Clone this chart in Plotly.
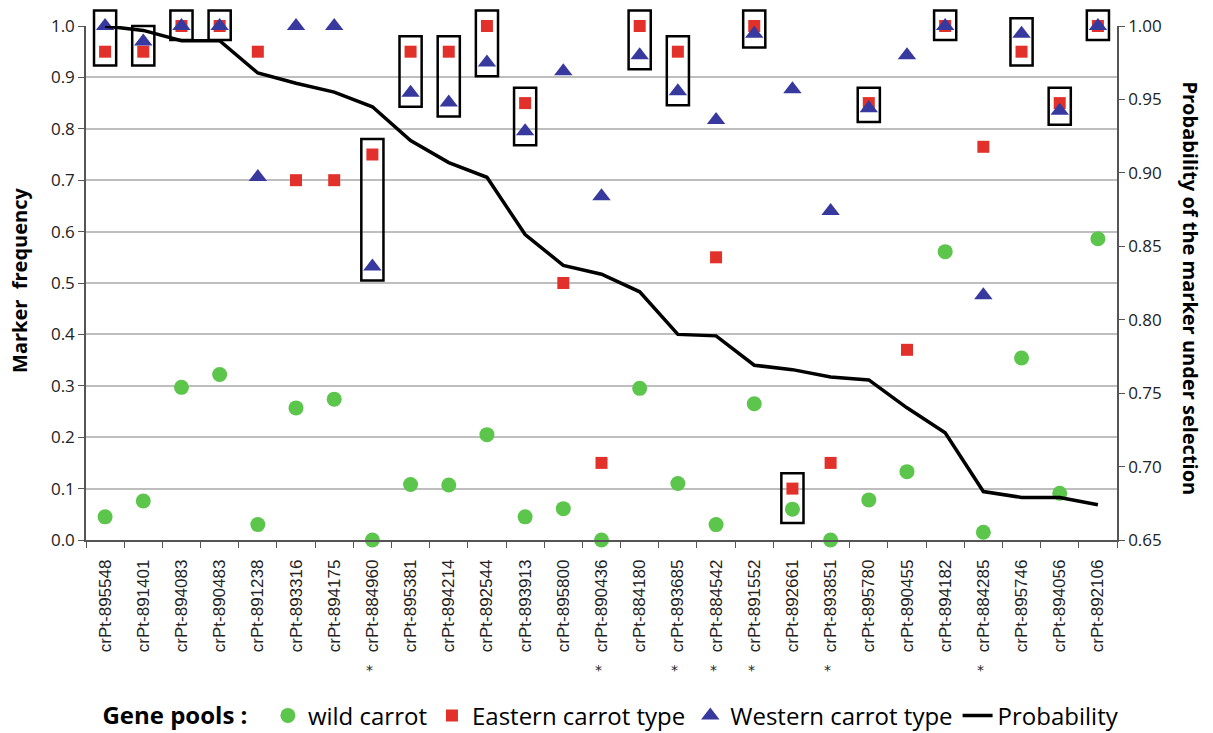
import plotly.graph_objects as go

markers = ["crPt-895548", "crPt-891401", "crPt-894083", "crPt-890483", "crPt-891238",
           "crPt-893316", "crPt-894175", "crPt-884960", "crPt-895381", "crPt-894214",
           "crPt-892544", "crPt-893913", "crPt-895800", "crPt-890436", "crPt-884180",
           "crPt-893685", "crPt-884542", "crPt-891552", "crPt-892661", "crPt-893851",
           "crPt-895780", "crPt-890455", "crPt-894182", "crPt-884285", "crPt-895746",
           "crPt-894056", "crPt-892106"]

wild = [0.045, 0.076, 0.297, 0.322, 0.030, 0.257, 0.274, 0.0, 0.108, 0.107,
        0.205, 0.045, 0.061, 0.0, 0.295, 0.110, 0.030, 0.265, 0.060, 0.0,
        0.078, 0.133, 0.561, 0.015, 0.354, 0.091, 0.586]

eastern = [0.95, 0.95, 1.0, 1.0, 0.95, 0.70, 0.70, 0.75, 0.95, 0.95,
           1.0, 0.85, 0.50, 0.15, 1.0, 0.95, 0.55, 1.0, 0.10, 0.15,
           0.85, 0.37, 1.0, 0.765, 0.95, 0.85, 1.0]

western = [1.0, 0.97, 1.0, 1.0, 0.706, 1.0, 1.0, 0.532, 0.870, 0.851,
           0.929, 0.795, 0.912, 0.669, 0.943, 0.873, 0.817, 0.985, 0.877, 0.640,
           0.840, 0.943, 1.0, 0.476, 0.985, 0.835, 1.0]

probability = [1.000, 0.997, 0.990, 0.990, 0.968, 0.961, 0.955, 0.945, 0.922, 0.907,
               0.897, 0.858, 0.837, 0.831, 0.819, 0.790, 0.789, 0.769, 0.766, 0.761,
               0.759, 0.740, 0.723, 0.683, 0.679, 0.679, 0.674]

# markers framed by a box (Eastern/Western pair), and one Eastern/wild pair
boxed_east_west = ["crPt-895548", "crPt-891401", "crPt-894083", "crPt-890483", "crPt-884960",
                   "crPt-895381", "crPt-894214", "crPt-892544", "crPt-893913", "crPt-884180",
                   "crPt-893685", "crPt-891552", "crPt-895780", "crPt-894182", "crPt-895746",
                   "crPt-894056", "crPt-892106"]
boxed_east_wild = ["crPt-892661"]

starred = ["crPt-884960", "crPt-890436", "crPt-893685", "crPt-884542", "crPt-891552",
           "crPt-893851", "crPt-884285"]

GREEN = "#5CC54B"
RED = "#E2312A"
BLUE = "#37399E"

fig = go.Figure()
fig.add_trace(go.Scatter(x=markers, y=wild, mode="markers", name="wild carrot",
                         marker=dict(symbol="circle", size=15, color=GREEN),
                         cliponaxis=False))
fig.add_trace(go.Scatter(x=markers, y=eastern, mode="markers", name="Eastern carrot type",
                         marker=dict(symbol="square", size=12, color=RED),
                         cliponaxis=False))
fig.add_trace(go.Scatter(x=markers, y=western, mode="markers", name="Western carrot type",
                         marker=dict(symbol="triangle-up", size=16, color=BLUE),
                         cliponaxis=False))
fig.add_trace(go.Scatter(x=markers, y=probability, mode="lines", name="Probability",
                         line=dict(color="black", width=3.5), yaxis="y2",
                         cliponaxis=False))

shapes = []
def add_box(cat, vals):
    i = markers.index(cat)
    top = max(vals) + 0.03
    bot = min(vals) - 0.027
    shapes.append(dict(type="rect", xref="x", yref="paper", x0=i - 0.29, x1=i + 0.29,
                       y0=bot, y1=top, line=dict(color="black", width=2.5),
                       fillcolor="rgba(0,0,0,0)", layer="above"))

for c in boxed_east_west:
    i = markers.index(c)
    add_box(c, [eastern[i], western[i]])
for c in boxed_east_wild:
    i = markers.index(c)
    add_box(c, [eastern[i], wild[i]])

annotations = []
for c in starred:
    annotations.append(dict(x=c, xref="x", y=-0.272, yref="paper", text="*", xshift=-3,
                            showarrow=False, font=dict(family="DejaVu Sans", size=14, color="#222")))

TITLE_FONT = dict(family="Open Sans", size=20, color="black", weight="bold")
annotations.append(dict(x=-0.0795, xref="paper", y=0.505, yref="paper", text="Marker  frequency",
                        textangle=-90, showarrow=False, font=TITLE_FONT))
annotations.append(dict(x=1.0865, xref="paper", y=0.49, yref="paper",
                        text="Probability of the marker under selection",
                        textangle=90, showarrow=False, font=TITLE_FONT))

TICK_FONT = dict(family="Open Sans", size=17, color="#222")

fig.update_layout(
    width=1213, height=733,
    margin=dict(l=78, r=104, t=18, b=201, autoexpand=False),
    paper_bgcolor="white", plot_bgcolor="white",
    showlegend=True,
    legend=dict(orientation="h", x=0.014, xanchor="left", y=-0.342, yanchor="middle",
                font=dict(family="Open Sans", size=24, color="black"),
                title=dict(text="<b>Gene pools :</b>  ",
                           font=dict(family="Open Sans", size=24, color="black"),
                           side="left"),
                itemwidth=30, tracegroupgap=0),
    xaxis=dict(type="category", categoryorder="array", categoryarray=markers,
               range=[-0.5, len(markers) - 0.5], automargin=False,
               tickangle=-90, tickson="boundaries", ticks="outside", ticklen=6,
               ticklabelstandoff=11,
               tickcolor="#555", showline=True, linecolor="#555", linewidth=1.5,
               showgrid=False, tickfont=dict(family="Liberation Sans", size=17, color="#222")),
    yaxis=dict(range=[0, 1.0], dtick=0.1, tickformat=".1f", ticks="outside", ticklen=6,
               automargin=False,
               tickcolor="#555", showline=True, linecolor="#555", linewidth=1.5,
               showgrid=True, gridcolor="#BEBEBE", gridwidth=1.5, zeroline=False,
               tickfont=TICK_FONT),
    yaxis2=dict(overlaying="y", side="right", range=[0.65, 1.0], dtick=0.05, tickformat=".2f",
                automargin=False,
                ticks="outside", ticklen=6, tickcolor="#555", showline=True, linecolor="#555",
                linewidth=1.5, showgrid=False, zeroline=False,
                tickfont=TICK_FONT),
    shapes=shapes,
    annotations=annotations,
)

fig.write_html("out.html")
